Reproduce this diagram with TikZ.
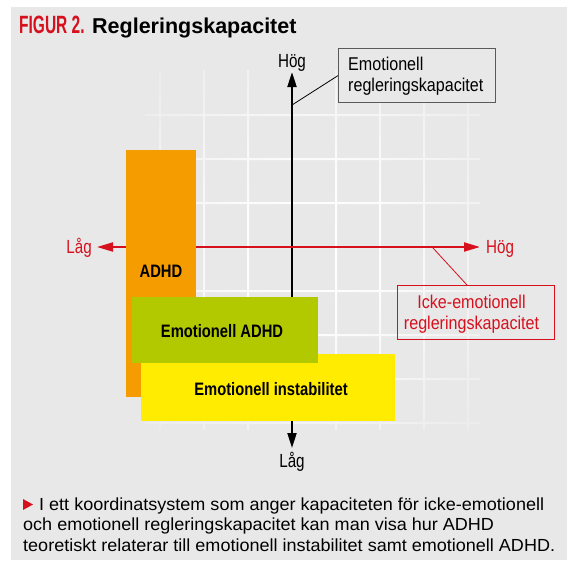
\documentclass[tikz,border=0pt]{standalone}
\usepackage{fontspec}
\setmainfont{Liberation Sans}
\newfontfamily\lblfam[FakeStretch=0.8]{Liberation Sans}
\newfontfamily\boxfam[FakeStretch=0.87]{Liberation Sans}
\newfontfamily\bldfam[FakeStretch=0.82]{Liberation Sans}
\newfontfamily\figfam[FakeStretch=0.62]{Liberation Sans}
\newfontfamily\capfam[FakeStretch=1.03]{Liberation Sans}
\usetikzlibrary{arrows.meta}
\definecolor{bggray}{HTML}{E8E8E8}
\definecolor{boxgray}{HTML}{5A5A5A}
\definecolor{figred}{HTML}{D7101E}
\definecolor{adhdorange}{HTML}{F59C00}
\definecolor{emogreen}{HTML}{B2C900}
\definecolor{instyellow}{HTML}{FFEC00}
\pgfdeclareradialshading{gridshade}{\pgfpointorigin}{color(0bp)=(white); color(12bp)=(white!85!bggray); color(26bp)=(white!40!bggray); color(40bp)=(bggray); color(50bp)=(bggray)}
\tikzset{
  lbl/.style={font=\lblfam\fontsize{19}{21}\selectfont, inner sep=0pt},
  boxtxt/.style={font=\boxfam\fontsize{18.5}{21}\selectfont, inner sep=0pt},
  bold/.style={font=\bldfam\bfseries\fontsize{18}{20}\selectfont, inner sep=0pt},
  captxt/.style={font=\capfam\fontsize{17.5}{20}\selectfont, inner sep=0pt, anchor=base west},
  area/.style={inner sep=0pt, anchor=north west},
}
\begin{document}
\begin{tikzpicture}[x=1pt,y=-1pt]
\useasboundingbox (0,0) rectangle (567,560);
\fill[bggray] (11,7) rectangle (567,560);
% title
\node[font=\figfam\bfseries\fontsize{25}{28}\selectfont, text=figred, inner sep=0pt, anchor=base west] (fig) at (19,33) {FIGUR 2.};
\node[font=\bfseries\fontsize{21.5}{26}\selectfont, inner sep=0pt, anchor=base west] (title) at (92,33) {Regleringskapacitet};
% grid
\shade[shading=gridshade]
  \foreach \gx in {160,204,248,292,336,380,424,468} {(\gx-1,70) rectangle (\gx+1,430)}
  \foreach \gy in {115,159,203,247,291,335,379,423} {(145,\gy-1) rectangle (480,\gy+1)};
% axes
\coordinate (vlow) at (292,448);
\coordinate (vhigh) at (292,72);
\coordinate (hlow) at (97,247);
\coordinate (hhigh) at (480,247);
\draw[line width=2pt, {Triangle[length=15pt,width=9pt]}-{Triangle[length=15pt,width=9pt]}] (vlow) -- (vhigh);
\draw[figred, line width=2pt, {Triangle[length=16pt,width=9pt]}-{Triangle[length=16pt,width=9pt]}] (hlow) -- (hhigh);
\node[lbl, anchor=base] (hogv) at (292,67) {Hög};
\node[lbl, anchor=base] (lagv) at (292,467) {Låg};
\node[lbl, text=figred, anchor=base east] (lagh) at (92,253) {Låg};
\node[lbl, text=figred, anchor=base west] (hogh) at (486,253) {Hög};
% areas
\node[area, fill=adhdorange, minimum width=70, minimum height=247] (adhd) at (126,150) {};
\node[area, fill=instyellow, minimum width=254, minimum height=67] (inst) at (141,354) {};
\node[area, fill=emogreen, minimum width=186, minimum height=66] (emoadhd) at (132,297) {};
\node[bold, anchor=base] (adhdt) at (161,277) {ADHD};
\node[bold, anchor=base] (emoadhdt) at (222,337) {Emotionell ADHD};
\node[bold, anchor=base] (instt) at (271,395) {Emotionell instabilitet};
% callout boxes
\node[area, draw=boxgray, line width=1.2pt, fill=bggray, minimum width=157, minimum height=54] (ebox) at (338,48) {};
\node[boxtxt, anchor=base west, align=left] (eboxt) at (348,91.7) {Emotionell\\regleringskapacitet};
\coordinate (eaxis) at (292,105);
\draw[line width=0.8pt] (eaxis) -- (ebox.west);
\node[area, draw=figred, line width=1pt, minimum width=157, minimum height=54] (rbox) at (397,285) {};
\node[boxtxt, text=figred, anchor=base, align=center] (rboxt) at (471.5,329) {Icke-emotionell\\regleringskapacitet};
\coordinate (raxis) at (433,248);
\coordinate (rtop) at (467,285);
\draw[figred, line width=0.8pt] (raxis) -- (rtop);
% caption
\fill[figred] (23,499) -- (33,504.5) -- (23,510) -- cycle;
\node[captxt] (cap1) at (39,510) {I ett koordinatsystem som anger kapaciteten för icke-emotionell};
\node[captxt] (cap2) at (23,530.5) {och emotionell regleringskapacitet kan man visa hur ADHD};
\node[captxt] (cap3) at (23,551) {teoretiskt relaterar till emotionell instabilitet samt emotionell ADHD.};
\end{tikzpicture}
\end{document}
